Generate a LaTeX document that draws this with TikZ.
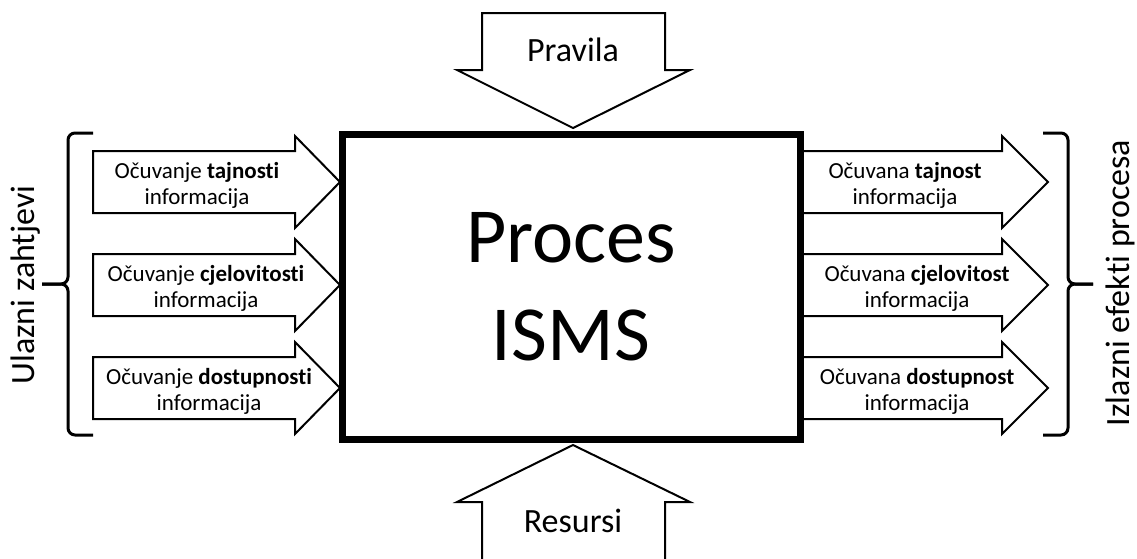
\documentclass[tikz,border=0pt]{standalone}
\usepackage{fontspec}
\setmainfont{Carlito}[Ligatures=NoCommon]
\usetikzlibrary{positioning}

\begin{document}
\begin{tikzpicture}[x=1pt,y=-1pt]
\tikzstyle{every node}+=[inner sep=0pt]
\tikzstyle{blok}=[draw=black, line width=2pt, fill=white, line join=miter]
\tikzstyle{zagrada}=[draw=black, line width=3pt, rounded corners=7pt]
\tikzstyle{opis}=[align=center, font=\fontsize{23}{26}\selectfont]
\useasboundingbox (0,0) rectangle (1137,558);
% ulazni zahtjevi
\draw [blok] (93,151) -- (295,151) -- (295,136) -- (340,182) -- (295,228) -- (295,213) -- (93,213) -- cycle;
\draw [blok] (93,254) -- (295,254) -- (295,239) -- (340,285) -- (295,331) -- (295,316) -- (93,316) -- cycle;
\draw [blok] (93,357) -- (295,357) -- (295,342) -- (340,388) -- (295,434) -- (295,419) -- (93,419) -- cycle;
\node [opis] (in1) at (197,185) {Očuvanje \textbf{tajnosti}\\informacija};
\node [opis] (in2) at (206,288) {Očuvanje \textbf{cjelovitosti}\\informacija};
\node [opis] (in3) at (209,391) {Očuvanje \textbf{dostupnosti}\\informacija};
% izlazni efekti
\draw [blok] (800,151) -- (1002,151) -- (1002,136) -- (1048,182) -- (1002,228) -- (1002,213) -- (800,213) -- cycle;
\draw [blok] (800,254) -- (1002,254) -- (1002,239) -- (1048,285) -- (1002,331) -- (1002,316) -- (800,316) -- cycle;
\draw [blok] (800,357) -- (1002,357) -- (1002,342) -- (1048,388) -- (1002,434) -- (1002,419) -- (800,419) -- cycle;
\node [opis] (out1) at (905,185) {Očuvana \textbf{tajnost}\\informacija};
\node [opis] (out2) at (917,288) {Očuvana \textbf{cjelovitost}\\informacija};
\node [opis] (out3) at (917,391) {Očuvana \textbf{dostupnost}\\informacija};
% pravila i resursi
\draw [blok] (482,13) -- (665,13) -- (665,70) -- (690,70) -- (573,128) -- (457,70) -- (482,70) -- cycle;
\node [font=\fontsize{34}{40}\selectfont] (pravila) at (573,50) {Pravila};
\draw [blok] (482,559) -- (482,502) -- (457,502) -- (573,445) -- (690,502) -- (665,502) -- (665,559);
\node [font=\fontsize{34}{40}\selectfont] (resursi) at (573,521) {Resursi};
% proces
\node [draw=black, line width=7pt, fill=white, minimum width=458pt, minimum height=304.5pt,
  align=center, font=\fontsize{78}{98}\selectfont] (proces) at (571,286.75) {Proces\\ISMS};
% zagrade
\draw [zagrada] (93,133) -- (68,133) -- (68,284) -- (42,284);
\draw [zagrada] (42,284) -- (68,284) -- (68,435) -- (93,435);
\draw [zagrada] (1043,133) -- (1068,133) -- (1068,284) -- (1093,284);
\draw [zagrada] (1093,284) -- (1068,284) -- (1068,435) -- (1043,435);
\node [rotate=90, font=\fontsize{34}{40}\selectfont] (ulaz) at (26,285) {Ulazni zahtjevi};
\node [rotate=90, font=\fontsize{34}{40}\selectfont] (izlaz) at (1120,283) {Izlazni efekti procesa};
\end{tikzpicture}
\end{document}
